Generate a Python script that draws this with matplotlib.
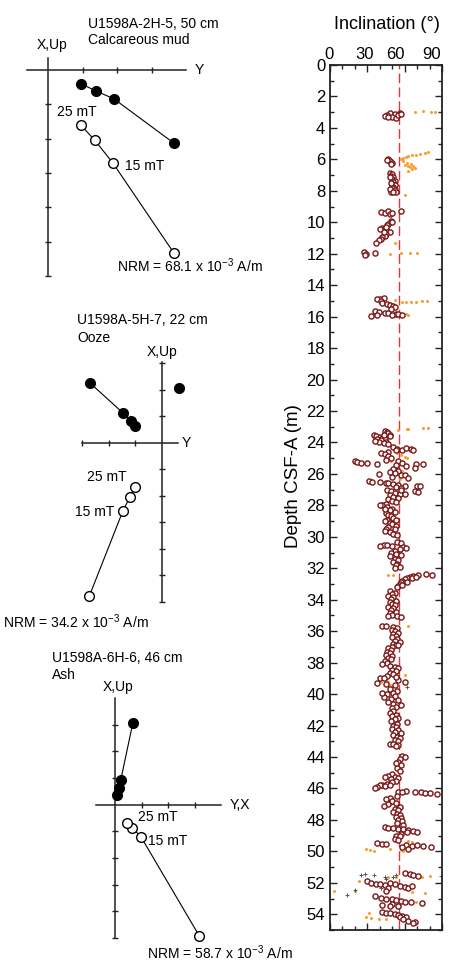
import numpy as np
import matplotlib
matplotlib.use("Agg")
import matplotlib.pyplot as plt
from matplotlib.ticker import MultipleLocator

plt.rcParams['font.family'] = ['Liberation Sans', 'DejaVu Sans']
plt.rcParams['mathtext.fontset'] = 'custom'
plt.rcParams['mathtext.rm'] = 'Liberation Sans'
plt.rcParams['mathtext.default'] = 'regular'

# ---- Zijderveld data (tick units), NRM first ----
z1_hor = [(3.63, -2.13), (1.90, -0.84), (1.38, -0.61), (0.95, -0.40)]
z1_ver = [(3.63, -5.33), (1.87, -2.71), (1.35, -2.05), (0.95, -1.61)]
z2_hor = [(-2.71, 2.26), (-1.47, 1.13), (-1.17, 0.83), (-1.02, 0.64)]
z2_extra = [(0.64, 2.07)]
z2_ver = [(-2.74, -5.79), (-1.47, -2.56), (-1.20, -2.03), (-1.02, -1.65)]
z3_hor = [(0.67, 3.07), (0.22, 0.94), (0.15, 0.64), (0.08, 0.37)]
z3_ver = [(3.15, -4.91), (0.97, -1.20), (0.64, -0.86), (0.45, -0.67)]

# ---- Inclination vs depth (depth m, inclination deg) ----
circ = [
    (3.05, 48), (3.1, 52), (3.08, 56), (3.2, 46), (3.25, 44), (3.3, 50), (3.35, 53), (3.15, 55), (3.28, 47), (3.12, 57),
    (6.0, 47), (6.1, 48), (6.2, 50), (6.3, 49), (6.05, 46),
    (6.85, 48), (6.95, 50), (7.05, 49), (7.15, 51), (7.25, 50), (7.35, 52), (7.45, 51), (7.55, 50), (7.65, 52),
    (7.75, 51), (7.85, 50), (7.95, 52), (8.05, 49), (8.1, 53), (7.1, 48), (7.5, 49), (7.9, 48), (8.05, 51),
    (9.35, 41), (9.4, 44), (9.3, 47), (9.45, 48), (9.38, 50), (9.3, 57),
    (9.95, 49), (10.1, 47), (10.2, 46), (10.35, 42), (10.4, 40), (10.45, 44), (10.55, 46), (10.65, 48), (10.75, 45),
    (10.85, 44), (10.95, 42), (11.05, 41), (11.15, 39), (11.3, 37), (10.3, 45), (10.6, 43), (10.0, 50),
    (11.9, 27), (12.0, 29), (12.05, 28), (11.95, 36),
    (14.85, 40), (14.8, 43), (14.9, 38), (15.0, 41), (15.15, 42), (15.2, 46), (15.25, 48), (15.3, 51), (15.4, 52),
    (15.5, 49), (15.65, 36), (15.7, 39), (15.75, 44), (15.8, 47), (15.85, 53), (15.95, 33), (15.9, 38), (15.9, 50),
    (15.85, 55), (15.9, 58),
    (23.3, 44), (23.35, 46), (23.4, 47), (23.5, 48), (23.55, 35), (23.6, 37), (23.65, 40), (23.7, 42), (23.75, 44),
    (23.8, 38), (23.85, 41), (23.95, 45), (24.0, 39), (24.05, 43), (24.1, 47), (23.5, 43), (23.9, 36), (23.6, 48),
    (24.3, 51), (24.4, 54), (24.45, 58), (24.35, 61), (24.4, 65), (24.45, 67), (24.5, 53), (24.6, 47),
    (24.7, 41), (24.75, 44), (24.85, 47), (25.0, 49), (25.1, 45), (25.2, 20), (25.25, 22), (25.3, 25), (25.3, 30),
    (25.35, 38), (25.2, 55), (25.3, 58), (25.35, 69), (25.35, 75), (25.5, 61), (25.45, 53),
    (25.6, 68), (25.7, 51), (25.8, 55), (25.9, 48), (26.0, 39), (26.05, 57), (26.1, 60), (26.2, 50), (26.25, 63), (25.95, 52),
    (26.45, 31), (26.5, 34), (26.5, 40), (26.55, 45), (26.6, 47), (26.65, 51), (26.7, 55), (26.75, 60), (26.75, 70),
    (26.8, 72), (26.85, 53), (26.9, 57),
    (27.0, 46), (27.1, 49), (27.2, 52), (27.25, 56), (27.3, 60), (27.35, 48), (27.45, 51), (27.5, 55), (27.6, 47),
    (27.7, 50), (27.8, 53), (27.9, 45), (27.95, 42), (28.0, 40), (27.1, 68), (27.15, 71), (27.05, 57),
    (28.1, 46), (28.2, 50), (28.3, 48), (28.4, 52), (28.5, 45), (28.6, 47), (28.7, 49), (28.8, 51), (28.9, 46),
    (29.0, 44), (29.1, 48), (29.2, 50), (29.3, 53), (29.4, 47), (29.5, 45), (29.6, 44), (29.7, 48), (29.8, 51),
    (29.9, 54), (28.9, 53), (29.5, 52), (28.25, 44),
    (30.35, 54), (30.4, 57), (30.55, 43), (30.55, 46), (30.6, 50), (30.65, 59), (30.7, 61), (30.8, 56), (30.9, 52),
    (31.0, 49), (31.1, 53), (31.15, 57), (31.25, 48), (30.6, 40),
    (31.4, 52), (31.5, 55), (31.6, 51), (31.7, 54), (31.8, 53), (31.9, 56), (32.0, 52),
    (32.35, 77), (32.45, 82), (32.4, 71), (32.5, 67), (32.55, 64), (32.6, 62), (32.7, 60), (32.8, 58), (32.9, 57),
    (33.0, 56), (33.1, 55), (33.2, 54), (32.65, 66), (32.85, 62), (33.05, 58), (32.55, 69),
    (33.45, 48), (33.55, 52), (33.65, 50), (33.75, 47), (33.85, 51), (33.95, 49), (34.05, 53), (34.15, 48), (34.25, 50),
    (34.35, 52), (34.45, 47), (34.55, 51), (34.65, 49), (34.75, 53), (34.85, 48), (34.95, 50), (35.05, 54), (35.05, 47), (35.1, 57),
    (35.65, 42), (35.7, 45), (35.75, 51), (35.8, 54), (35.9, 50), (36.0, 52), (36.1, 55), (36.2, 51), (36.3, 53),
    (36.4, 50), (36.5, 54), (36.6, 52), (36.7, 56), (36.8, 51), (36.9, 53), (36.85, 55),
    (37.0, 50), (37.1, 47), (37.2, 49), (37.3, 46), (37.4, 48), (37.5, 45), (37.6, 50), (37.7, 47), (37.8, 49),
    (37.9, 44), (38.0, 46), (38.1, 42), (38.2, 48), (38.3, 52),
    (38.35, 55), (38.45, 50), (38.55, 53), (38.65, 48), (38.75, 51), (38.85, 46), (38.95, 40), (39.0, 43), (39.1, 55),
    (39.2, 60), (39.3, 38), (39.35, 45), (39.45, 52), (38.9, 53),
    (39.7, 48), (39.8, 54), (39.9, 51), (40.0, 46), (40.1, 52), (40.2, 43), (40.3, 49), (40.4, 55), (40.5, 47),
    (40.6, 51), (40.7, 57), (40.8, 53), (40.9, 50), (39.9, 42),
    (41.1, 51), (41.2, 48), (41.3, 53), (41.4, 50), (41.5, 55), (41.6, 52), (41.7, 49), (41.8, 62), (41.9, 54), (42.0, 51),
    (42.1, 53), (42.2, 50), (42.3, 55), (42.4, 52), (42.5, 57), (42.6, 51), (42.7, 54), (42.8, 56), (42.9, 52),
    (43.0, 55), (43.15, 48), (43.2, 51), (43.25, 55), (43.3, 53),
    (43.95, 58), (44.0, 60), (44.1, 56), (44.3, 55), (44.5, 57), (44.7, 54), (44.9, 56), (44.4, 53),
    (45.1, 50), (45.2, 47), (45.25, 44), (45.3, 52), (45.35, 55), (45.4, 49),
    (45.55, 53), (45.6, 50), (45.7, 46), (45.75, 42), (45.8, 40), (45.9, 38), (45.95, 36), (45.85, 44), (45.75, 48),
    (46.15, 61), (46.2, 68), (46.25, 73), (46.3, 76), (46.3, 80), (46.35, 86), (46.2, 55), (46.25, 58),
    (46.5, 54), (46.6, 48), (46.7, 45), (46.8, 50), (46.9, 53), (47.0, 47), (47.1, 43), (47.2, 56), (47.3, 52),
    (47.4, 55), (47.5, 51),
    (47.6, 54), (47.7, 56), (47.8, 53), (47.9, 57), (48.0, 55), (48.1, 58), (48.2, 54), (48.3, 59),
    (48.45, 44), (48.5, 47), (48.5, 51), (48.55, 55), (48.6, 59), (48.65, 63), (48.7, 67), (48.75, 70), (48.8, 62),
    (48.9, 57), (49.0, 53), (49.05, 56),
    (49.2, 52), (49.3, 55), (49.45, 38), (49.5, 42), (49.55, 45), (49.6, 61), (49.65, 66), (49.6, 70), (49.65, 75),
    (49.7, 81), (49.75, 58), (49.85, 63),
    (51.4, 60), (51.45, 64), (51.5, 67), (51.55, 71), (51.9, 30), (52.0, 33), (52.05, 37), (52.1, 40), (52.15, 44),
    (52.0, 48), (52.1, 52), (52.2, 56), (52.25, 60), (52.3, 63), (52.2, 66), (52.35, 47),
    (52.55, 45), (52.85, 36), (52.95, 41), (53.0, 45), (53.05, 50), (53.1, 53), (53.15, 57), (53.2, 60), (53.25, 65),
    (53.3, 74), (53.35, 50), (53.4, 42), (53.45, 48), (53.5, 55),
    (53.85, 42), (53.9, 45), (53.95, 48), (54.0, 52), (54.05, 55), (54.1, 58), (54.15, 61), (54.2, 56), (54.3, 59),
    (54.4, 63), (54.5, 68), (54.55, 67),
]
orange = [
    (3.0, 68), (2.95, 75), (2.97, 81), (2.98, 84),
    (5.55, 79), (5.6, 76), (5.65, 72), (5.7, 69), (5.75, 66), (5.8, 63), (5.85, 61), (5.9, 59), (6.0, 57), (6.1, 59),
    (6.2, 62), (6.3, 65), (6.4, 67), (6.5, 64), (6.55, 68), (6.6, 66), (6.75, 63), (6.35, 60), (6.45, 63),
    (8.27, 60), (11.3, 52),
    (12.0, 48), (11.98, 57), (11.95, 64), (11.97, 70),
    (14.95, 52), (15.05, 58), (15.1, 61), (15.08, 65), (15.05, 69), (15.03, 74), (15.02, 78), (15.85, 61), (15.88, 63),
    (23.2, 55), (23.15, 62), (23.14, 63), (23.1, 75), (23.08, 79),
    (24.7, 54), (24.8, 57), (24.9, 60), (25.0, 62), (25.4, 55), (25.6, 53), (25.8, 58), (26.0, 54), (26.15, 60),
    (26.3, 56), (25.2, 49),
    (32.45, 47), (32.4, 51), (35.65, 63),
    (38.8, 60), (39.0, 42), (39.1, 45), (39.2, 47), (39.3, 44), (39.4, 48), (39.5, 50), (39.25, 41), (39.45, 46),
    (46.6, 51), (47.0, 49),
    (49.35, 63), (49.4, 66), (49.85, 29), (49.9, 32), (49.95, 35), (49.85, 48), (49.9, 57), (49.95, 59),
    (51.6, 47), (51.65, 53), (51.6, 74), (51.55, 80), (51.9, 23), (51.95, 30), (52.1, 46), (52.5, 3), (52.55, 20),
    (52.6, 66), (52.65, 76), (53.2, 69), (53.3, 60), (53.45, 50), (53.5, 56), (53.95, 31), (54.2, 29), (54.25, 33),
    (54.3, 39), (54.3, 45),
]
plus = [
    (39.55, 62), (51.5, 25), (51.45, 28), (51.5, 35), (51.6, 44), (51.6, 51), (51.5, 53), (51.55, 89), (51.8, 30),
    (52.0, 36), (52.3, 41), (52.45, 20), (52.75, 14), (51.75, 45),
]
gad_inc = 55.7
inc_ticks = [0, 30, 60, 90]

W, H = 449, 961
fig = plt.figure(figsize=(W / 100, H / 100), dpi=100)


def px_axes(left, top, right, bottom):
    return fig.add_axes([left / W, 1 - bottom / H, (right - left) / W, (bottom - top) / H])


def zijder(ax, xlim, ylim, xt, yt, hor, ver, extra=None):
    ax.set_xlim(*xlim)
    ax.set_ylim(*ylim)
    ax.patch.set_visible(False)
    for s in ['top', 'right']:
        ax.spines[s].set_visible(False)
    for s in ['left', 'bottom']:
        ax.spines[s].set_position(('data', 0))
        ax.spines[s].set_linewidth(1.1)
        ax.spines[s].set_color('#222222')
    ax.set_xticks(xt)
    ax.set_yticks(yt)
    ax.tick_params(direction='inout', length=5, width=1, color='#222222',
                   labelbottom=False, labelleft=False)
    h = np.array(hor)
    v = np.array(ver)
    ax.plot(h[:, 0], h[:, 1], '-', color='k', lw=0.8, zorder=3, clip_on=False)
    ax.plot(h[:, 0], h[:, 1], 'o', mfc='k', mec='k', ms=7, zorder=4, clip_on=False)
    ax.plot(v[:, 0], v[:, 1], '-', color='k', lw=0.8, zorder=3, clip_on=False)
    ax.plot(v[:, 0], v[:, 1], 'o', mfc='white', mec='k', mew=1, ms=7, zorder=4, clip_on=False)
    if extra is not None:
        e = np.array(extra)
        ax.plot(e[:, 0], e[:, 1], 'o', mfc='k', mec='k', ms=7, zorder=4, clip_on=False)


fs = 10
nrm = r'NRM = {} x 10$^{{-3}}$ A/m'

# Panel 1
a1 = px_axes(27, 58, 186, 276)
zijder(a1, (-0.61, 3.98), (-5.94, 0.35), [1, 2, 3], [-1, -2, -3, -4, -5, -6], z1_hor, z1_ver)
a1.text(1.15, 1.35, 'U1598A-2H-5, 50 cm', fontsize=fs, va='center', clip_on=False)
a1.text(1.15, 0.86, 'Calcareous mud', fontsize=fs, va='center', clip_on=False)
a1.text(0.12, 0.72, 'X,Up', fontsize=fs, ha='center', va='center')
a1.text(4.24, 0, 'Y', fontsize=fs, va='center')
a1.text(0.26, -1.21, '25 mT', fontsize=fs, va='center')
a1.text(2.22, -2.80, '15 mT', fontsize=fs, va='center')
a1.text(1.99, -5.71, nrm.format('68.1'), fontsize=fs, va='center')

# Panel 2
a2 = px_axes(82, 362, 178, 602)
zijder(a2, (-3.01, 0.60), (-5.98, 3.05), [-3, -2, -1], [3, 2, 1, -1, -2, -3, -4, -5, -6], z2_hor, z2_ver, z2_extra)
a2.text(-3.2, 4.62, 'U1598A-5H-7, 22 cm', fontsize=fs, va='center')
a2.text(-3.2, 3.95, 'Ooze', fontsize=fs, va='center')
a2.text(0, 3.42, 'X,Up', fontsize=fs, ha='center', va='center')
a2.text(0.75, 0, 'Y', fontsize=fs, va='center')
a2.text(-2.82, -1.28, '25 mT', fontsize=fs, va='center')
a2.text(-3.27, -2.59, '15 mT', fontsize=fs, va='center')
a2.text(-5.98, -6.73, nrm.format('34.2'), fontsize=fs, va='center')

# Panel 3
a3 = px_axes(96, 698, 221, 938)
zijder(a3, (-0.71, 3.97), (-4.98, 4.0), [1, 2, 3], [3, 2, 1, -1, -2, -3, -4, -5], z3_hor, z3_ver)
a3.text(-2.36, 5.51, 'U1598A-6H-6, 46 cm', fontsize=fs, va='center')
a3.text(-2.36, 4.87, 'Ash', fontsize=fs, va='center')
a3.text(0.11, 4.42, 'X,Up', fontsize=fs, ha='center', va='center')
a3.text(4.31, 0, 'Y,X', fontsize=fs, va='center')
a3.text(0.86, -0.45, '25 mT', fontsize=fs, va='center')
a3.text(1.24, -1.35, '15 mT', fontsize=fs, va='center')
a3.text(1.2, -5.54, nrm.format('58.7'), fontsize=fs, va='center')

# Inclination panel
ax = px_axes(330, 65, 442, 930)
c = np.array(circ)
o = np.array(orange)
p = np.array(plus)
ax.axvline(gad_inc, color='#d9363e', lw=1.0, dashes=(7, 3), zorder=1)
ax.plot(o[:, 1], o[:, 0], 'o', color='#f7a030', ms=2.2, mew=0, zorder=2)
ax.plot(p[:, 1], p[:, 0], '+', color='#555555', ms=3, mew=0.7, zorder=2)
ax.plot(c[:, 1], c[:, 0], 'o', mfc='white', mec='#7a1717', mew=1.0, ms=3.7, zorder=3)
ax.set_xlim(0, 90)
ax.set_ylim(55, 0)
ax.xaxis.set_major_locator(MultipleLocator(30))
ax.xaxis.set_minor_locator(MultipleLocator(10))
ax.yaxis.set_major_locator(MultipleLocator(2))
ax.yaxis.set_minor_locator(MultipleLocator(1))
ax.tick_params(which='both', direction='in', top=True, right=True,
               labeltop=False, labelbottom=False, labelsize=12, width=1, color='#222222')
ax.tick_params(which='major', length=5)
ax.tick_params(which='minor', length=3)
for s in ax.spines.values():
    s.set_linewidth(1.3)
    s.set_color('#222222')
ax.set_ylabel('Depth CSF-A (m)', fontsize=13.5)
ax.yaxis.set_label_coords(-0.25, 0.525)

# top tick labels sit slightly left of their ticks in the original
for v, dx in zip(inc_ticks, [-1, -3, -9, -10]):
    ax.annotate(str(v), xy=(v, 1), xycoords=('data', 'axes fraction'), xytext=(dx, 6),
                textcoords='offset pixels', ha='center', va='baseline', fontsize=12)
ax.annotate('Inclination (°)', xy=(0.5, 1), xycoords='axes fraction', xytext=(1, 36),
            textcoords='offset pixels', ha='center', va='baseline', fontsize=13)

fig.savefig('out.png', dpi=100)
